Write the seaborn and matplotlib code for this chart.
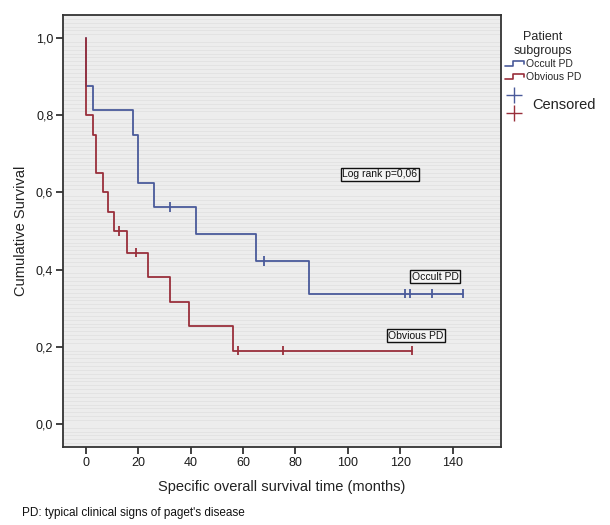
import matplotlib
matplotlib.use("Agg")
import matplotlib.pyplot as plt
from matplotlib.lines import Line2D
from matplotlib.legend_handler import HandlerBase
from matplotlib.ticker import MultipleLocator, FuncFormatter
import pandas as pd
import seaborn as sns

# Kaplan-Meier steps
occult_t = [0, 0, 2.9, 18.2, 19.8, 26.0, 42.0, 65.0, 85.2, 144.0]
occult_s = [1.0, 0.875, 0.8125, 0.75, 0.625, 0.5625, 0.492, 0.422, 0.3375, 0.3375]
obvious_t = [0, 0, 2.7, 3.9, 6.7, 8.4, 10.9, 15.6, 23.8, 32.2, 39.5, 56.3, 124.6]
obvious_s = [1.0, 0.8, 0.75, 0.65, 0.6, 0.55, 0.5, 0.444, 0.381, 0.317, 0.254, 0.190, 0.190]

# censored observations
occult_cens_t = [32.0, 68.0, 122.0, 123.8, 132.3, 144.0]
occult_cens_s = [0.5625, 0.422, 0.3375, 0.3375, 0.3375, 0.3375]
obvious_cens_t = [12.8, 19.0, 58.2, 75.2, 124.6]
obvious_cens_s = [0.5, 0.444, 0.190, 0.190, 0.190]

groups = ["Occult PD", "Obvious PD"]
colors = {"Occult PD": "#4a5a9a", "Obvious PD": "#992f3b"}

curves = pd.concat([
    pd.DataFrame({"t": occult_t, "s": occult_s, "group": "Occult PD"}),
    pd.DataFrame({"t": obvious_t, "s": obvious_s, "group": "Obvious PD"}),
], ignore_index=True)
cens = pd.concat([
    pd.DataFrame({"t": occult_cens_t, "s": occult_cens_s, "group": "Occult PD"}),
    pd.DataFrame({"t": obvious_cens_t, "s": obvious_cens_s, "group": "Obvious PD"}),
], ignore_index=True)

sns.set_theme(style="ticks")
plt.rcParams["font.family"] = ["Liberation Sans", "DejaVu Sans"]

fig = plt.figure(figsize=(6.1, 5.25), dpi=100)
ax = fig.add_axes([0.1033, 0.1486, 0.718, 0.8228])
ax.set_facecolor("#ededed")

sns.lineplot(data=curves, x="t", y="s", hue="group", palette=colors,
             hue_order=groups, drawstyle="steps-post", sort=False,
             estimator=None, linewidth=1.3, legend=False, ax=ax)
sns.scatterplot(data=cens, x="t", y="s", hue="group", palette=colors,
                hue_order=groups, marker="|", s=45, linewidth=1.3,
                legend=False, ax=ax, zorder=3)

ax.set_xlim(-8.7, 158.5)
ax.set_ylim(-0.06, 1.06)
ax.set_xticks([0, 20, 40, 60, 80, 100, 120, 140])
ax.set_yticks([0, 0.2, 0.4, 0.6, 0.8, 1.0])
ax.yaxis.set_major_formatter(FuncFormatter(lambda v, p: f"{v:.1f}".replace(".", ",")))
ax.yaxis.set_minor_locator(MultipleLocator(0.01))
ax.grid(which="minor", axis="y", color="#e2e2e2", linewidth=0.6)
ax.tick_params(which="minor", length=0)
ax.tick_params(which="major", length=5, width=1.3, color="#333333",
               labelsize=9, labelcolor="#1a1a1a", pad=2)
for sp in ax.spines.values():
    sp.set_visible(True)
    sp.set_color("#333333")
    sp.set_linewidth(1.3)

ax.set_xlabel("Specific overall survival time (months)", fontsize=10.5,
              color="#222222", labelpad=8)
ax.set_ylabel("Cumulative Survival", fontsize=10.5, color="#222222", labelpad=6)

box = dict(boxstyle="square,pad=0.15", fc="#f4f4f4", ec="#111111", lw=1.0)
ax.text(112.3, 0.647, "Log rank p=0,06", fontsize=7.5, ha="center", va="center",
        bbox=box, color="#111111")
ax.text(133.4, 0.382, "Occult PD", fontsize=7.5, ha="center", va="center",
        bbox=box, color="#111111")
ax.text(126.0, 0.228, "Obvious PD", fontsize=7.5, ha="center", va="center",
        bbox=box, color="#111111")


class StepHandler(HandlerBase):
    def create_artists(self, legend, orig_handle, xdescent, ydescent,
                       width, height, fontsize, trans):
        x0, y0 = -xdescent, -ydescent
        xs = [x0, x0 + 0.45 * width, x0 + 0.45 * width, x0 + width, x0 + width]
        ys = [y0 + 0.15 * height, y0 + 0.15 * height, y0 + 0.85 * height,
              y0 + 0.85 * height, y0 + 0.45 * height]
        ln = Line2D(xs, ys, color=orig_handle.get_color(), lw=1.2, transform=trans)
        return [ln]


handles = [Line2D([], [], color=colors[g]) for g in groups]
leg = fig.legend(handles, groups, loc="upper left",
                 bbox_to_anchor=(0.816, 0.955), frameon=False, fontsize=7.5,
                 title="Patient\nsubgroups", title_fontsize=9,
                 handler_map={Line2D: StepHandler()}, handlelength=1.8,
                 handletextpad=0.2, labelspacing=0.25, borderpad=0.2)
leg.get_title().set_multialignment("center")

# censored markers in legend area
for yy, g in zip([0.819, 0.785], groups):
    fig.add_artist(Line2D([0.843], [yy], marker="+", markersize=11,
                          markeredgewidth=1.0, color=colors[g],
                          transform=fig.transFigure))
fig.text(0.872, 0.80, "Censored", fontsize=10.5, va="center", color="#222222")

fig.text(0.036, 0.018, "PD: typical clinical signs of paget's disease",
         fontsize=8.5, color="#111111")

fig.savefig("out.png", dpi=100)
